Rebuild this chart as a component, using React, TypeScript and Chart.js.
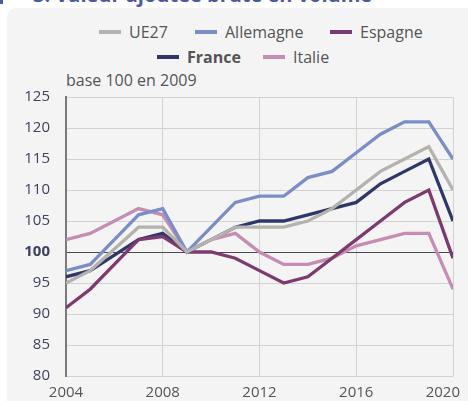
import React, { useEffect, useRef } from "react";
import { Chart, registerables } from "chart.js";

Chart.register(...registerables);

const years = [2004, 2005, 2006, 2007, 2008, 2009, 2010, 2011, 2012, 2013, 2014, 2015, 2016, 2017, 2018, 2019, 2020];
const ue27 = [95, 97, 100.5, 104, 104, 100, 102, 104, 104, 104, 105, 107, 110, 113, 115, 117, 110];
const allemagne = [97, 98, 102, 106, 107, 100, 104, 108, 109, 109, 112, 113, 116, 119, 121, 121, 115];
const espagne = [91, 94, 98, 102, 102.5, 100, 100, 99, 97, 95, 96, 99, 102, 105, 108, 110, 99];
const france = [96, 97, 99.5, 102, 103, 100, 102, 104, 105, 105, 106, 107, 108, 111, 113, 115, 105];
const italie = [102, 103, 105, 107, 106, 100, 102, 103, 100, 98, 98, 99, 101, 102, 103, 103, 94];
const yTicks = [80, 85, 90, 95, 100, 105, 110, 115, 120, 125];
const xTicks = [2004, 2008, 2012, 2016, 2020];

const FONT = "'Open Sans', 'Noto Sans', sans-serif";

const series = [
  { label: "UE27", data: ue27, color: "#b4b2ac" },
  { label: "Allemagne", data: allemagne, color: "#7b8dc8" },
  { label: "Espagne", data: espagne, color: "#7c3a6f" },
  { label: "Italie", data: italie, color: "#c58db3" },
  { label: "France", data: france, color: "#2e3768" },
];

const xLabelsPlugin = {
  id: "xLabels",
  afterDraw(chart: any) {
    const ctx = chart.ctx;
    const scale = chart.scales.x;
    const area = chart.chartArea;
    ctx.save();
    ctx.font = `15px ${FONT}`;
    ctx.fillStyle = "#555555";
    ctx.textBaseline = "middle";
    ctx.textAlign = "left";
    xTicks.forEach((v) => {
      const text = String(v);
      const w = ctx.measureText(text).width;
      let x = scale.getPixelForValue(v) - w / 2;
      if (x + w > chart.width - 8) x = chart.width - 8 - w;
      ctx.fillText(text, x, area.bottom + 17);
    });
    ctx.restore();
  },
};

export default function App() {
  const ref = useRef<HTMLCanvasElement>(null);
  useEffect(() => {
    document.body.style.margin = "0";
    const canvas = ref.current!;
    const chart = new Chart(canvas, {
      type: "line",
      data: {
        datasets: series.map((s) => ({
          label: s.label,
          data: years.map((y, i) => ({ x: y, y: s.data[i] })),
          borderColor: s.color,
          backgroundColor: s.color,
          borderWidth: 3.3,
          pointRadius: 0,
          tension: 0,
        })),
      },
      plugins: [xLabelsPlugin],
      options: {
        animation: false,
        responsive: false,
        maintainAspectRatio: false,
        layout: { padding: { left: 0, right: 15, top: 97, bottom: 0 } },
        plugins: { legend: { display: false }, tooltip: { enabled: false } },
        scales: {
          x: {
            type: "linear",
            min: 2004,
            max: 2020,
            afterBuildTicks: (axis: any) => {
              axis.ticks = xTicks.map((v) => ({ value: v }));
            },
            afterFit: (axis: any) => {
              axis.height = 23;
            },
            grid: {
              drawTicks: false,
              color: (ctx: any) => (ctx.tick && ctx.tick.value === 2004 ? "rgba(0,0,0,0)" : "#d2d2d2"),
              lineWidth: 1,
            },
            border: { display: false },
            ticks: { display: false },
          },
          y: {
            min: 80,
            max: 125,
            afterBuildTicks: (axis: any) => {
              axis.ticks = yTicks.map((v) => ({ value: v }));
            },
            afterFit: (axis: any) => {
              axis.width = 66;
            },
            grid: {
              drawTicks: false,
              color: (ctx: any) => (ctx.tick && ctx.tick.value === 100 ? "#4a4a4a" : "#d2d2d2"),
              lineWidth: 1,
            },
            border: { display: true, color: "#7a7a7a", width: 2 },
            ticks: {
              padding: 16,
              color: "#3d4262",
              font: (ctx: any) => ({
                family: FONT,
                size: 15,
                weight: ctx.tick && ctx.tick.value === 100 ? "bold" : "normal",
              }),
            },
          },
        },
      },
    });
    return () => chart.destroy();
  }, []);

  const legendItem = (label: string, color: string, left: number, top: number, bold = false) => (
    <div style={{ position: "absolute", left, top, display: "flex", alignItems: "center", height: 24 }}>
      <span style={{ display: "inline-block", width: 22, height: 4, background: color, marginRight: 8 }} />
      <span style={{ fontWeight: bold ? 700 : 400, whiteSpace: "nowrap" }}>{label}</span>
    </div>
  );

  return (
    <div style={{ position: "relative", width: 468, height: 401, overflow: "hidden", background: "#ffffff", fontFamily: FONT }}>
      <div style={{ position: "absolute", left: 0, top: 0, width: 3, height: 4, background: "#4b5aa8" }} />
      <div
        style={{
          position: "absolute",
          left: 33,
          top: -19,
          whiteSpace: "nowrap",
          color: "#4b5aa8",
          fontWeight: 700,
          fontSize: 20,
          fontFamily: FONT,
        }}
      >
        3. Valeur ajoutée brute en volume
      </div>
      <div
        style={{
          position: "absolute",
          left: 7,
          top: 8,
          width: 480,
          height: 420,
          background: "#f4f4f4",
          borderRadius: 9,
        }}
      />
      <div style={{ position: "absolute", left: 0, top: 0, width: 468, color: "#555555", fontSize: 16, lineHeight: "24px" }}>
        {legendItem("UE27", "#b4b2ac", 99, 20)}
        {legendItem("Allemagne", "#7b8dc8", 195, 20)}
        {legendItem("Espagne", "#7c3a6f", 330, 20)}
        {legendItem("France", "#2e3768", 157, 45, true)}
        {legendItem("Italie", "#c58db3", 263, 45)}
      </div>
      <div style={{ position: "absolute", left: 66, top: 69, color: "#555555", fontSize: 16, lineHeight: "22px" }}>base 100 en 2009</div>
      <canvas ref={ref} width={468} height={401} style={{ position: "absolute", left: 0, top: 0, width: 468, height: 401 }} />
    </div>
  );
}
